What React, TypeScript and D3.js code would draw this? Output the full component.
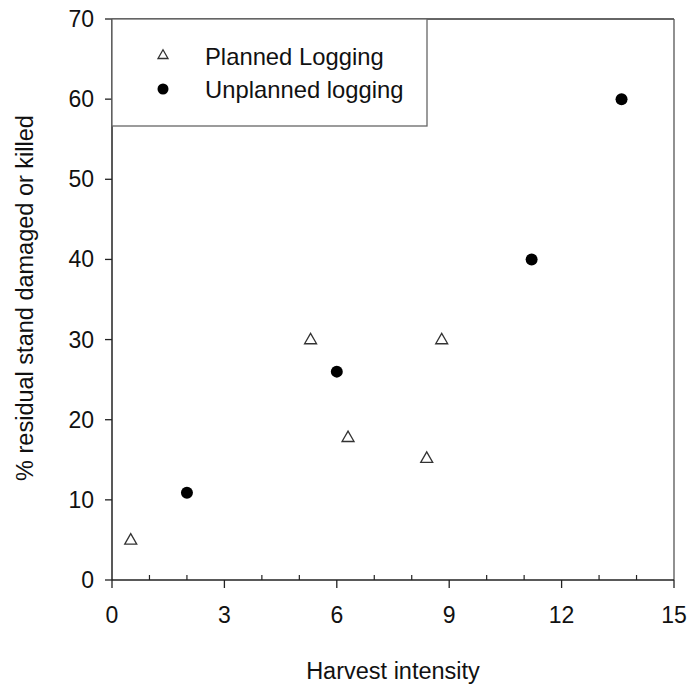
import React from "react";
import * as d3 from "d3";

const plannedX = [0.5, 5.3, 6.3, 8.4, 8.8];
const plannedY = [5, 30, 17.8, 15.2, 30];
const unplannedX = [2, 6, 11.2, 13.6];
const unplannedY = [10.9, 26, 40, 60];
const xTicks = [0, 3, 6, 9, 12, 15];
const xMinorTicks = [1, 2, 4, 5, 7, 8, 10, 11, 13, 14];
const yTicks = [0, 10, 20, 30, 40, 50, 60, 70];
const legendLabels = ["Planned Logging", "Unplanned logging"];

const W = 689, H = 686;
const L = 112, R = 674, T = 19, B = 580;
const font = "'Liberation Sans', Arial, sans-serif";

export default function App() {
  const x = d3.scaleLinear().domain([0, 15]).range([L, R]);
  const y = d3.scaleLinear().domain([0, 70]).range([B, T]);
  const tri = (cx: number, cy: number, s: number) => {
    const h = s * 0.87;
    return `M${cx},${cy - h * 0.6}L${cx + s / 2},${cy + h * 0.4}L${cx - s / 2},${cy + h * 0.4}Z`;
  };
  return (
    <svg width={W} height={H} style={{ position: "absolute", left: 0, top: 0, background: "#fff" }}>
      <rect x={0} y={0} width={W} height={H} fill="#fff" />
      {/* frame */}
      <line x1={L} x2={R} y1={T} y2={T} stroke="#333" strokeWidth={1.3} />
      <line x1={R} x2={R} y1={T} y2={B} stroke="#555" strokeWidth={1.3} />
      <line x1={L} x2={R} y1={B} y2={B} stroke="#222" strokeWidth={1.5} />
      <line x1={L} x2={L} y1={T} y2={B} stroke="#222" strokeWidth={1.5} />
      {/* x ticks */}
      {xTicks.map((t) => (
        <g key={"xt" + t}>
          <line x1={x(t)} x2={x(t)} y1={B} y2={B + 8} stroke="#222" strokeWidth={1.3} />
          <text x={x(t)} y={623} textAnchor="middle" fontFamily={font} fontSize={23} fill="#111">{t}</text>
        </g>
      ))}
      {xMinorTicks.map((t) => (
        <line key={"xm" + t} x1={x(t)} x2={x(t)} y1={B} y2={B - 5} stroke="#222" strokeWidth={1.2} />
      ))}
      {/* y ticks */}
      {yTicks.map((t) => (
        <g key={"yt" + t}>
          <line x1={L - 7} x2={L} y1={y(t)} y2={y(t)} stroke="#222" strokeWidth={1.3} />
          <text x={94} y={y(t) + 8} textAnchor="end" fontFamily={font} fontSize={23} fill="#111">{t}</text>
        </g>
      ))}
      {/* titles */}
      <text x={393} y={679} textAnchor="middle" fontFamily={font} fontSize={23.5} fill="#111">Harvest intensity</text>
      <text transform={`translate(33,298) rotate(-90)`} textAnchor="middle" fontFamily={font} fontSize={23.5} fill="#111">% residual stand damaged or killed</text>
      {/* legend */}
      <rect x={L} y={T} width={315} height={107} fill="#fff" stroke="#666" strokeWidth={1.3} />
      <path d={tri(163, 55, 10)} fill="#fff" stroke="#333" strokeWidth={1.3} />
      <circle cx={163} cy={89} r={5.5} fill="#000" />
      <text x={205} y={65} fontFamily={font} fontSize={23.8} fill="#111">{legendLabels[0]}</text>
      <text x={205} y={98} fontFamily={font} fontSize={23.8} fill="#111">{legendLabels[1]}</text>
      {/* data */}
      {plannedX.map((v, i) => (
        <path key={"p" + i} d={tri(x(v), y(plannedY[i]), 12)} fill="#fff" stroke="#333" strokeWidth={1.3} />
      ))}
      {unplannedX.map((v, i) => (
        <circle key={"u" + i} cx={x(v)} cy={y(unplannedY[i])} r={6} fill="#000" />
      ))}
    </svg>
  );
}
